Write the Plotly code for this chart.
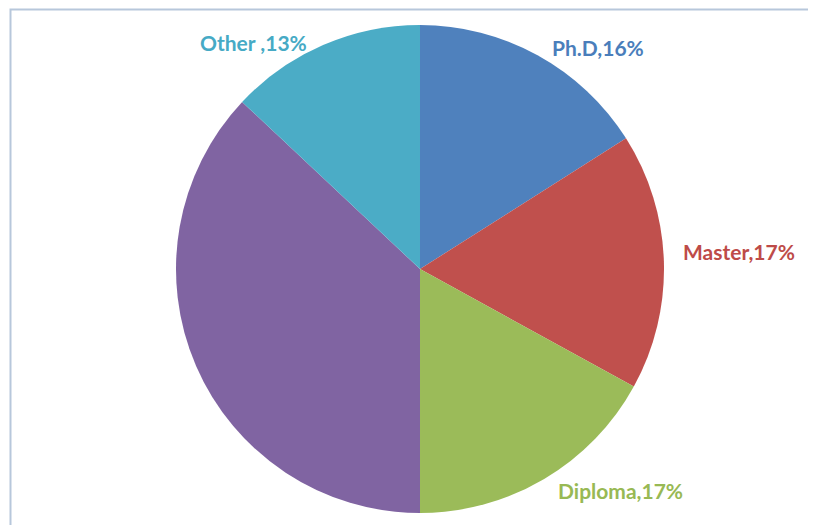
import plotly.graph_objects as go

labels = ["Ph.D", "Master", "Diploma", "Bachelor", "Other "]
values = [16, 17, 17, 37, 13]
colors = ["#4f81bd", "#c0504d", "#9bbb59", "#8064a2", "#4bacc6"]
text_colors = ["#4a7ebb", "#be4b48", "#98b954", "#8064a2", "#46aac5"]
show_label = [True, True, True, False, True]

W, H = 816, 525
OFF = 8  # page body margin
# label centres in page pixels (Excel style placement)
label_pos = [(598, 48), (739, 252), (620, 490), None, (253, 42)]

cx, cy, r = 420 - OFF, 269 - OFF, 244
fig = go.Figure(go.Pie(
    labels=labels,
    values=values,
    sort=False,
    direction="clockwise",
    rotation=0,
    marker=dict(colors=colors, line=dict(width=0)),
    textinfo="none",
    showlegend=False,
    domain=dict(x=[(cx - r) / W, (cx + r) / W],
                y=[1 - (cy + r) / H, 1 - (cy - r) / H]),
))

total = sum(values)
for lab, val, col, show, pos in zip(labels, values, text_colors, show_label, label_pos):
    if not show:
        continue
    fig.add_annotation(
        x=(pos[0] - OFF) / W, y=1 - (pos[1] - OFF) / H, xref="paper", yref="paper",
        text="<b>%s,%d%%</b>" % (lab, round(val * 100 / total)),
        showarrow=False,
        font=dict(family="Lato", size=21, color=col),
        xanchor="center", yanchor="middle",
    )

# chart frame
fig.add_shape(type="rect", xref="paper", yref="paper",
              x0=(10.5 - OFF) / W, x1=1.05, y0=-0.05, y1=1 - (9.5 - OFF) / H,
              line=dict(color="#b7c7db", width=2), fillcolor="rgba(0,0,0,0)")

fig.update_layout(
    width=W, height=H,
    margin=dict(l=0, r=0, t=0, b=0),
    paper_bgcolor="white",
    plot_bgcolor="white",
)

fig.write_html("out.html")
